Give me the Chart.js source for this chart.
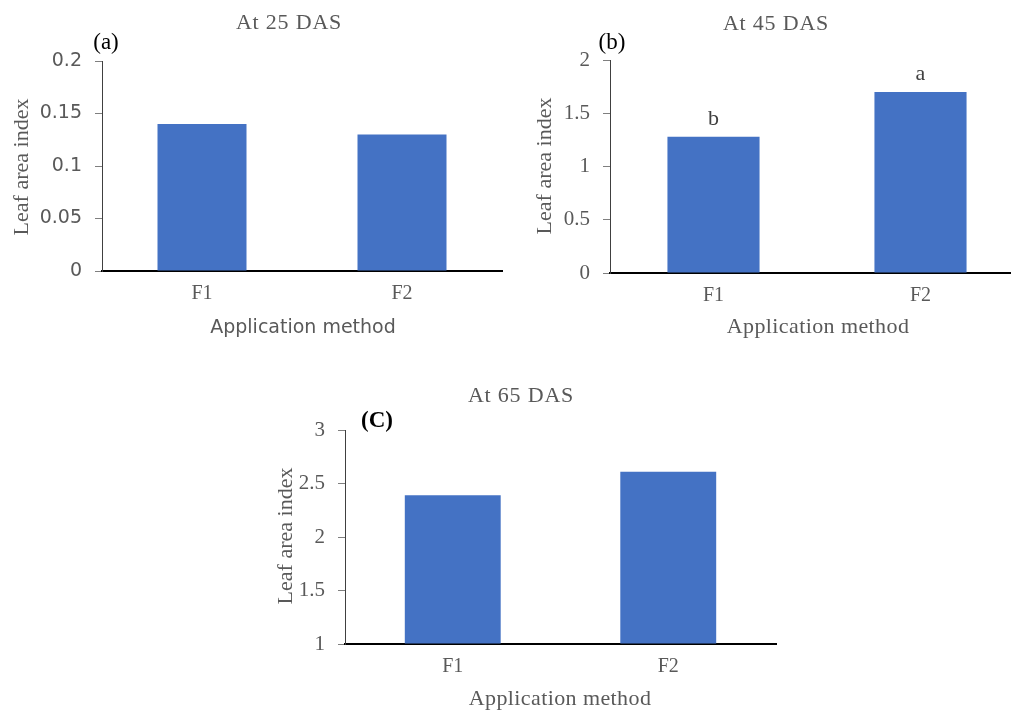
<!DOCTYPE html>
<html>
<head>
<meta charset="utf-8">
<script src="https://cdn.jsdelivr.net/npm/chart.js@4.4.0/dist/chart.umd.min.js"></script>
<style>
  html, body { margin: 0; padding: 0; background: #fff; overflow: hidden; width: 1011px; height: 710px; position: relative; }
  canvas { position: absolute; }
</style>
</head>
<body>
<canvas id="chartA" width="505" height="345" style="left:0px;top:0px"></canvas>
<canvas id="chartB" width="516" height="345" style="left:510px;top:0px"></canvas>
<canvas id="chartC" width="520" height="340" style="left:260px;top:370px"></canvas>
<script>
// カテゴリ
var categories = ["F1", "F2"];
// 葉面積指数
var laiAt25 = [0.14, 0.13];
var laiAt45 = [1.28, 1.70];
var laiAt65 = [2.39, 2.61];
// 有意差の文字
var lettersAt45 = ["b", "a"];
// 目盛
var ticksA = [0, 0.05, 0.1, 0.15, 0.2];
var ticksB = [0, 0.5, 1, 1.5, 2];
var ticksC = [1, 1.5, 2, 2.5, 3];
// テキスト
var panelTitles = ["At 25 DAS", "At 45 DAS", "At 65 DAS"];
var panelLabels = ["(a)", "(b)", "(C)"];
var xAxisTitle = "Application method";
var yAxisTitle = "Leaf area index";

var GRAY = "#595959";
var BAR = "#4472C4";
var SERIF = "'Liberation Serif', 'Times New Roman', serif";
var SANS = "'DejaVu Sans', 'Open Sans', sans-serif";

document.addEventListener("DOMContentLoaded", function() {

  function makeChart(id, opt) {
    // 文字の描画
    var textPlugin = {
      id: "panelText",
      afterDraw: function(chart) {
        var ctx = chart.ctx;
        ctx.save();
        ctx.textAlign = "center";
        ctx.textBaseline = "alphabetic";
        opt.texts.forEach(function(t) {
          ctx.font = t.font;
          ctx.fillStyle = t.color;
          ctx.letterSpacing = t.spacing || "0px";
          if (t.rotate) {
            ctx.save();
            ctx.translate(t.x, t.y);
            ctx.rotate(-Math.PI / 2);
            ctx.fillText(t.text, 0, 0);
            ctx.restore();
          } else {
            ctx.fillText(t.text, t.x, t.y);
          }
        });
        if (opt.letters) {
          ctx.font = "22px " + SERIF;
          ctx.fillStyle = "#404040";
          ctx.letterSpacing = "0px";
          chart.getDatasetMeta(0).data.forEach(function(bar, i) {
            ctx.fillText(opt.letters[i], bar.x, bar.y - 12);
          });
        }
        ctx.restore();
      }
    };

    var ctx = document.getElementById(id).getContext("2d");
    return new Chart(ctx, {
      type: "bar",
      data: {
        labels: categories,
        datasets: [{
          data: opt.values,
          backgroundColor: BAR,
          borderWidth: 0,
          base: opt.ticks[0],
          categoryPercentage: 1,
          barPercentage: 0.445
        }]
      },
      options: {
        responsive: false,
        animation: false,
        devicePixelRatio: 1,
        layout: { padding: { top: opt.area.top, right: opt.area.right, left: 0, bottom: 0 } },
        plugins: { legend: { display: false }, tooltip: { enabled: false } },
        scales: {
          x: {
            offset: true,
            grid: { display: false, drawTicks: false },
            border: { display: true, color: "#000", width: 2 },
            ticks: { color: GRAY, font: { family: SERIF, size: 20 }, padding: 11 },
            afterFit: function(scale) { scale.height = opt.area.xHeight; }
          },
          y: {
            min: opt.ticks[0],
            max: opt.ticks[opt.ticks.length - 1],
            afterBuildTicks: function(scale) {
              scale.ticks = opt.ticks.map(function(v) { return { value: v }; });
            },
            grid: { display: true, drawOnChartArea: false, drawTicks: true, tickLength: 7, color: "#7f7f7f" },
            border: { display: true, color: "#404040", width: 1 },
            ticks: {
              color: GRAY,
              font: opt.yFont,
              padding: 13,
              callback: function(v) { return String(v); }
            },
            afterFit: function(scale) { scale.width = opt.area.left; }
          }
        }
      },
      plugins: [textPlugin]
    });
  }

  // (a) 25 DAS
  makeChart("chartA", {
    values: laiAt25,
    ticks: ticksA,
    area: { left: 102, top: 61, right: 3, xHeight: 74 },
    yFont: { family: SANS, size: 19 },
    texts: [
      { text: panelTitles[0], x: 289, y: 29, font: "22px " + SERIF, color: GRAY, spacing: "0.8px" },
      { text: panelLabels[0], x: 106, y: 49, font: "23px " + SERIF, color: "#000" },
      { text: yAxisTitle, x: 28, y: 167, font: "22px " + SERIF, color: GRAY, rotate: true },
      { text: xAxisTitle, x: 303, y: 333, font: "19px " + SANS, color: GRAY }
    ]
  });

  // (b) 45 DAS
  makeChart("chartB", {
    values: laiAt45,
    ticks: ticksB,
    letters: lettersAt45,
    area: { left: 100, top: 60, right: 2, xHeight: 72 },
    yFont: { family: SERIF, size: 21 },
    texts: [
      { text: panelTitles[1], x: 266, y: 30, font: "22px " + SERIF, color: GRAY, spacing: "0.8px" },
      { text: panelLabels[1], x: 102, y: 49, font: "23px " + SERIF, color: "#000" },
      { text: yAxisTitle, x: 41, y: 166, font: "22px " + SERIF, color: GRAY, rotate: true },
      { text: xAxisTitle, x: 308, y: 333, font: "22px " + SERIF, color: GRAY, spacing: "0.4px" }
    ]
  });

  // (C) 65 DAS
  makeChart("chartC", {
    values: laiAt65,
    ticks: ticksC,
    area: { left: 85, top: 60, right: 4, xHeight: 66 },
    yFont: { family: SERIF, size: 21 },
    texts: [
      { text: panelTitles[2], x: 261, y: 32, font: "22px " + SERIF, color: GRAY, spacing: "0.8px" },
      { text: panelLabels[2], x: 117, y: 57, font: "bold 23px " + SERIF, color: "#000" },
      { text: yAxisTitle, x: 32, y: 166, font: "22px " + SERIF, color: GRAY, rotate: true },
      { text: xAxisTitle, x: 300, y: 335, font: "22px " + SERIF, color: GRAY, spacing: "0.4px" }
    ]
  });
});
</script>
</body>
</html>
